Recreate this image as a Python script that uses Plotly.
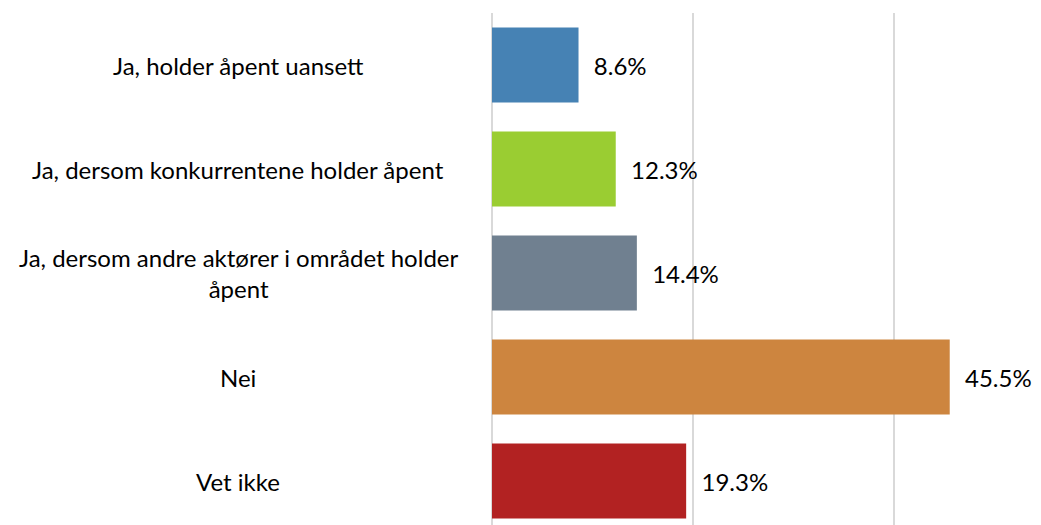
import plotly.graph_objects as go

categories = [
    "Ja, holder åpent uansett",
    "Ja, dersom konkurrentene holder åpent",
    "Ja, dersom andre aktører i området holder<br>åpent",
    "Nei",
    "Vet ikke",
]
values = [8.6, 12.3, 14.4, 45.5, 19.3]
colors = ["#4682B4", "#9ACD32", "#708090", "#CD853F", "#B22222"]

W, H = 1041, 525
ml, mr, mt, mb = 484, 54, 5, 0
pw = W - ml - mr
FONT = "Lato"
FS = 24

ids = list(range(len(categories)))

fig = go.Figure()
fig.add_trace(go.Bar(
    x=values,
    y=ids,
    orientation="h",
    marker=dict(color=colors, line=dict(width=0)),
    width=0.72,
    text=["  " + f"{v:.1f}%" for v in values],
    textposition="outside",
    cliponaxis=False,
    textfont=dict(family=FONT, size=FS, color="#000000"),
    hoverinfo="skip",
))

annotations = []
for i, c in enumerate(categories):
    annotations.append(dict(
        x=(230 - ml) / pw, xref="paper", xanchor="center",
        y=i, yref="y", yanchor="middle",
        text=c, showarrow=False, align="center",
        font=dict(family=FONT, size=FS, color="#000000"),
    ))

fig.update_layout(
    width=W, height=H,
    margin=dict(l=ml, r=mr, t=mt, b=mb, pad=0),
    paper_bgcolor="white", plot_bgcolor="white",
    showlegend=False,
    annotations=annotations,
    xaxis=dict(range=[0, 50], dtick=20, tick0=0, showticklabels=False,
               showgrid=True, gridcolor="#D9D9D9", gridwidth=2,
               zeroline=True, zerolinecolor="#D9D9D9", zerolinewidth=2,
               showline=False, ticks=""),
    yaxis=dict(range=[4.5, -0.5], showticklabels=False, showgrid=False,
               zeroline=False, showline=False, ticks=""),
    bargap=0.28,
)

fig.write_html("out.html")
